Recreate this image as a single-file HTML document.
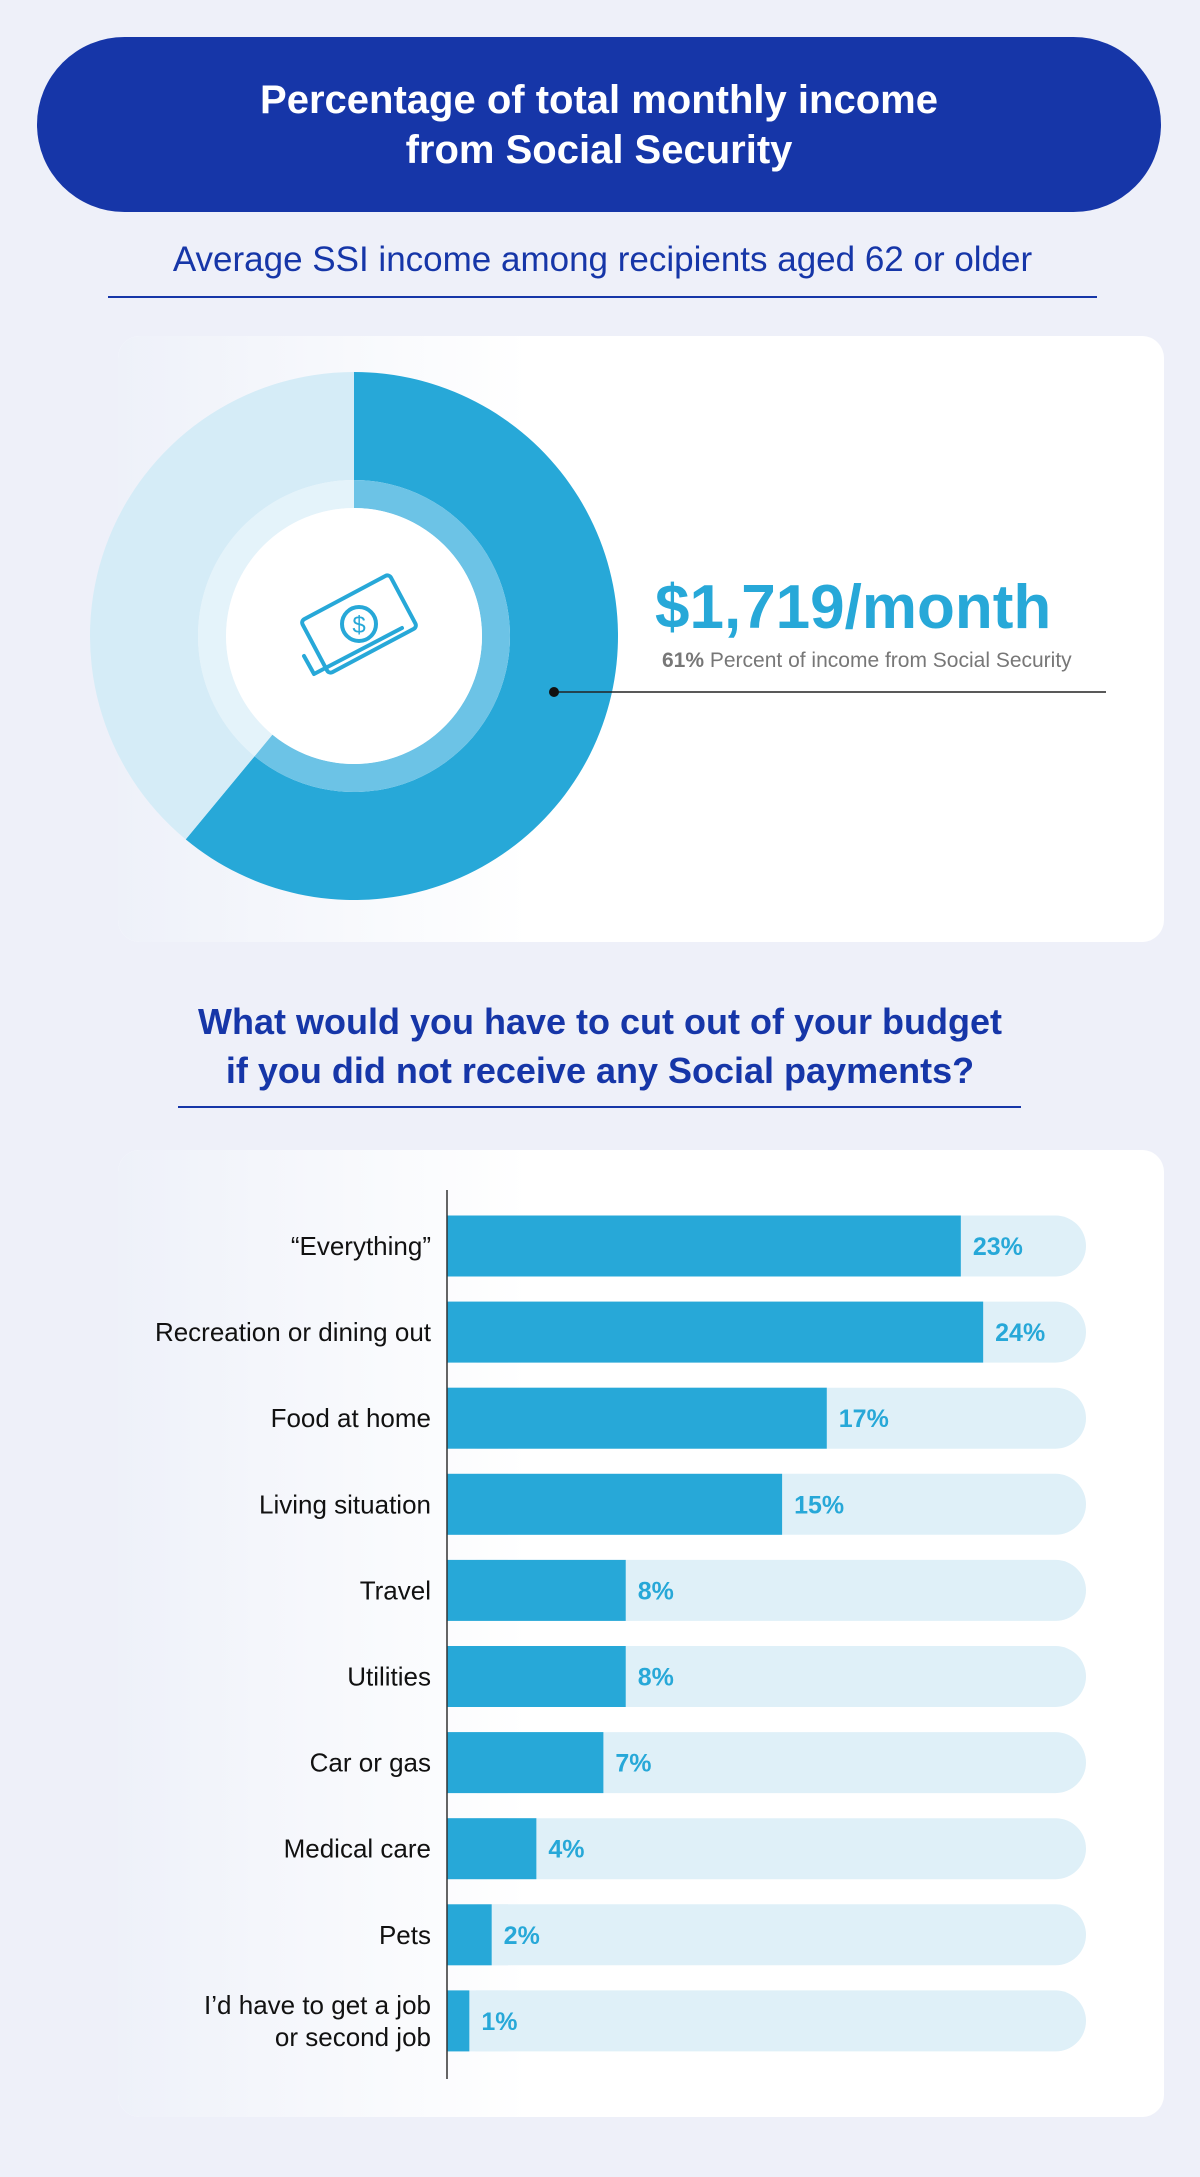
<!DOCTYPE html>
<html><head><meta charset="utf-8"><style>
body{margin:0;width:1200px;height:2177px;background:#eef0f9;font-family:"Liberation Sans",sans-serif;position:relative;overflow:hidden}
.abs{position:absolute}
.pill{left:37px;top:37px;width:1124px;height:175px;background:#1636a8;border-radius:88px;color:#fff;font-weight:bold;font-size:40px;text-align:center;line-height:50px;display:flex;align-items:center;justify-content:center}
.sub{color:#1636a8;text-align:center}
.card{background:#fff;border-radius:22px;overflow:hidden}
.fade{position:absolute;left:0;top:0;bottom:0;width:410px;background:linear-gradient(90deg,#eef1f9,#fff)}
</style></head><body>
<div class="abs pill">Percentage of total monthly income<br>from Social Security</div>
<div class="abs sub" style="left:108px;width:989px;top:240px;font-size:35px;">Average SSI income among recipients aged 62 or older</div>
<div class="abs" style="left:108px;width:989px;top:296px;height:2px;background:#1636a8"></div>

<div class="abs card" style="left:118px;top:336px;width:1046px;height:606px"><div class="fade"></div></div>
<svg class="abs" style="left:0;top:0" width="1200" height="1000" id="donut"></svg>
<div class="abs" style="left:655px;top:572px;font-size:62px;font-weight:bold;color:#27a8d8">$1,719/month</div>
<div class="abs" style="left:662px;top:649px;font-size:21px;color:#777"><b>61%</b> Percent of income from Social Security</div>

<div class="abs sub" style="left:100px;width:1000px;top:997px;font-size:36px;line-height:49px;font-weight:bold">What would you have to cut out of your budget<br>if you did not receive any Social payments?</div>
<div class="abs" style="left:178px;width:843px;top:1106px;height:2px;background:#1636a8"></div>
<div class="abs card" style="left:118px;top:1150px;width:1046px;height:967px"><div class="fade"></div></div>
<svg class="abs" style="left:0;top:0" width="1200" height="2177" id="bars"></svg>

<script>
const share=[61];
const NS="http://www.w3.org/2000/svg";
function mk(p,t,a){const e=document.createElementNS(NS,t);for(const k in a)e.setAttribute(k,a[k]);p.appendChild(e);return e;}
const d=document.getElementById('donut');
const cx=354,cy=636,R=264,r2=156,r1=128;
function pt(rad,f){const a=f*2*Math.PI-Math.PI/2;return [cx+rad*Math.cos(a),cy+rad*Math.sin(a)];}
function arc(f0,f1,ro,ri,fill,name){const [x0,y0]=pt(ro,f0),[x1,y1]=pt(ro,f1),[x2,y2]=pt(ri,f1),[x3,y3]=pt(ri,f0);const L=(f1-f0)>0.5?1:0;
const e=mk(d,'path',{d:`M${x0} ${y0}A${ro} ${ro} 0 ${L} 1 ${x1} ${y1}L${x2} ${y2}A${ri} ${ri} 0 ${L} 0 ${x3} ${y3}Z`,fill:fill});

}
const f=share[0]/100;
arc(0,f,R,r2,'#27a8d8','donut-social-security');
arc(f,0.99999,R,r2,'#d5ecf7','donut-other');
arc(0,f,r2,r1,'#6cc3e6','inner-ring-ss');
arc(f,0.99999,r2,r1,'#e4f3fa','inner-ring-other');
mk(d,'circle',{cx:cx,cy:cy,r:r1,fill:'#fff'});
const g=mk(d,'g',{fill:'none',stroke:'#27a8d8','stroke-width':4,'stroke-linejoin':'round','stroke-linecap':'round'});


mk(g,'rect',{x:-50,y:-30,width:100,height:60,rx:4,transform:`translate(${cx+5},${cy-12}) rotate(-28)`});
mk(g,'path',{d:`M${cx-50} ${cy+20}L${cx-40} ${cy+38}L${cx+48} ${cy-8}`});
mk(g,'circle',{cx:cx+5,cy:cy-12,r:17});
mk(g,'text',{x:cx+5,y:cy-3,'text-anchor':'middle','font-size':24,fill:'#27a8d8',stroke:'none','font-family':'Liberation Sans'}).textContent='$';
const lead=mk(d,'line',{x1:554,y1:692,x2:1106,y2:692,stroke:'#222','stroke-width':1.5});

mk(d,'circle',{cx:554,cy:692,r:5,fill:'#111'});

const cats=["\u201cEverything\u201d","Recreation or dining out","Food at home","Living situation","Travel","Utilities","Car or gas","Medical care","Pets","I\u2019d have to get a job|or second job"];
const vals=[23,24,17,15,8,8,7,4,2,1];
const b=document.getElementById('bars');
const x0=447,pxPer=22.34,trackEnd=1086,top0=1246,step=86.1,bh=61;
const xs=v=>x0+v*pxPer;
cats.forEach((c,i)=>{const yc=top0+i*step;
 const tr=mk(b,'rect',{x:x0,y:yc-bh/2,width:trackEnd-x0,height:bh,rx:bh/2,fill:'#dff0f8'});
 
 
 mk(b,'rect',{x:x0,y:yc-bh/2,width:bh,height:bh,fill:'#dff0f8'});
 const br=mk(b,'rect',{x:x0,y:yc-bh/2,width:xs(vals[i])-x0,height:bh,fill:'#27a8d8'});
 
 
 const vt=mk(b,'text',{x:xs(vals[i])+12,y:yc+9,'font-size':25,'font-weight':'bold',fill:'#27a8d8','font-family':'Liberation Sans'});
 vt.textContent=vals[i]+'%';
 
 
 const parts=c.split('|');
 parts.forEach((p,j)=>{const t=mk(b,'text',{x:431,y:yc+9+(j-(parts.length-1)/2)*32,'text-anchor':'end','font-size':26,fill:'#111','font-family':'Liberation Sans'});
 t.textContent=p;
 
 });
});
const ax=mk(b,'line',{x1:x0,y1:1190,x2:x0,y2:2079,stroke:'#333','stroke-width':1.5});


</script>
</body></html>
